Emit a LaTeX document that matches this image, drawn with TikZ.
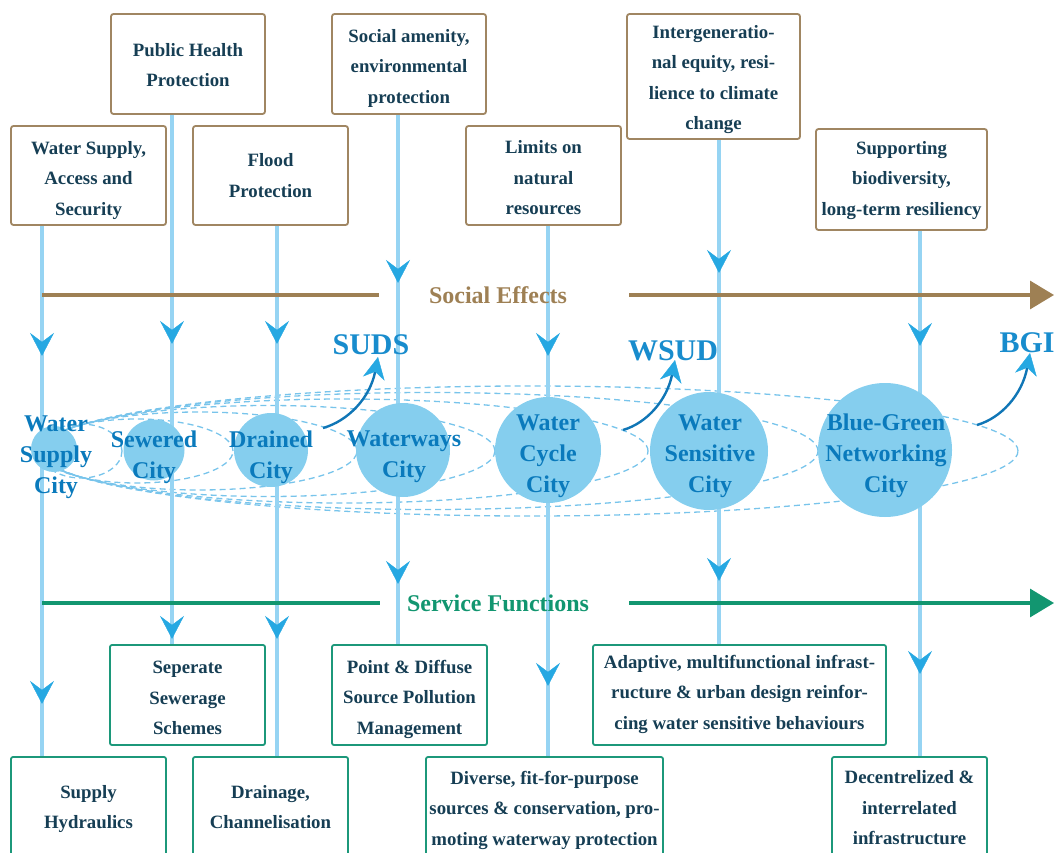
\documentclass[tikz,border=0pt]{standalone}
\usepackage{fontspec}
\setmainfont{Liberation Serif}
\usetikzlibrary{arrows.meta,decorations.markings}
\definecolor{boxbrown}{RGB}{160,134,98}
\definecolor{boxgreen}{RGB}{28,152,122}
\definecolor{txtdark}{RGB}{22,62,84}
\definecolor{sebrown}{RGB}{158,128,84}
\definecolor{sfgreen}{RGB}{18,150,112}
\definecolor{lineblue}{RGB}{150,212,243}
\definecolor{tipblue}{RGB}{38,168,226}
\definecolor{cityfill}{RGB}{133,206,238}
\definecolor{citytxt}{RGB}{10,122,188}
\definecolor{dashblue}{RGB}{120,196,235}
\definecolor{curveblue}{RGB}{16,118,182}
\definecolor{acroblue}{RGB}{24,140,205}
\tikzset{
  vtip/.tip={Stealth[length=23pt,width=24pt,inset=9pt,color=tipblue,line width=0.4pt]},
  ctip/.tip={Stealth[length=22pt,width=22pt,inset=7pt,color=tipblue,line width=0.4pt]},
}
\begin{document}
\begin{tikzpicture}[x=1pt,y=-1pt,
  boxtxt/.style={align=center, text=txtdark, inner sep=0pt, font=\fontsize{18.8}{30.5}\selectfont\bfseries},
  topbox/.style={draw=boxbrown, line width=1.8pt, rounded corners=2.5pt, fill=white, inner sep=0pt},
  botbox/.style={draw=boxgreen, line width=1.8pt, rounded corners=2pt, fill=white, inner sep=0pt},
  vline/.style 2 args={draw=lineblue, line width=4.5pt, postaction={decorate, decoration={markings, mark=at position #1 with {\arrow{vtip}}, mark=at position #2 with {\arrow{vtip}}}}},
  ell/.style={draw=dashblue, line width=1.3pt, dash pattern=on 6pt off 4pt},
  cityc/.style={circle, fill=cityfill, inner sep=0pt},
  citytext/.style={align=center, text=citytxt, inner sep=0pt, font=\fontsize{24}{31}\selectfont\bfseries},
  efftext/.style={inner sep=0pt, font=\fontsize{24}{28}\selectfont\bfseries},
  curvarr/.style={draw=curveblue, line width=2.4pt, -ctip},
  acro/.style={inner sep=0pt, text=acroblue, font=\fontsize{30}{34}\selectfont\bfseries},
]
\useasboundingbox (0,0) rectangle (1054,853);
\clip (0,0) rectangle (1054,853);

% top boxes
\node[topbox, minimum width=154pt, minimum height=100pt] (ph) at (188,64) {};
\node[boxtxt] (phT) at (188,65) {Public Health\\Protection};
\node[topbox, minimum width=155pt, minimum height=99pt] (ws) at (88.5,175.5) {};
\node[boxtxt] (wsT) at (88.5,180.5) {Water Supply,\\Access and\\Security};
\node[topbox, minimum width=155pt, minimum height=99pt] (fp) at (270.5,175.5) {};
\node[boxtxt] (fpT) at (270.5,175.5) {Flood\\Protection};
\node[topbox, minimum width=154pt, minimum height=100pt] (sa) at (409,64) {};
\node[boxtxt] (saT) at (409,68) {Social amenity,\\environmental\\protection};
\node[topbox, minimum width=155pt, minimum height=99pt] (ln) at (543.5,175.5) {};
\node[boxtxt] (lnT) at (543.5,178) {Limits on\\natural\\resources};
\node[topbox, minimum width=173pt, minimum height=125pt] (ig) at (713.5,76.5) {};
\node[boxtxt] (igT) at (713.5,79.5) {Intergeneratio-\\nal equity, resi-\\lience to climate\\change};
\node[topbox, minimum width=171pt, minimum height=101pt] (sb) at (901.5,179.5) {};
\node[boxtxt] (sbT) at (901.5,180.5) {Supporting\\biodiversity,\\long-term resiliency};

% bottom boxes
\node[botbox, minimum width=155pt, minimum height=100pt] (ss) at (187.5,695) {};
\node[boxtxt] (ssT) at (187.5,698) {Seperate\\Sewerage\\Schemes};
\node[botbox, minimum width=155pt, minimum height=100pt] (pd) at (409.5,695) {};
\node[boxtxt] (pdT) at (409.5,699) {Point \& Diffuse\\Source Pollution\\Management};
\node[botbox, minimum width=293pt, minimum height=100pt] (ad) at (739.5,695) {};
\node[boxtxt] (adT) at (739.5,694) {Adaptive, multifunctional infrast-\\ructure \& urban design reinfor-\\cing water sensitive behaviours};
\node[botbox, minimum width=155pt, minimum height=100pt] (sh) at (88.5,807) {};
\node[boxtxt] (shT) at (88.5,809) {Supply\\Hydraulics};
\node[botbox, minimum width=155pt, minimum height=100pt] (dc) at (270.5,807) {};
\node[boxtxt] (dcT) at (270.5,807) {Drainage,\\Channelisation};
\node[botbox, minimum width=237pt, minimum height=102pt] (dv) at (544.5,808) {};
\node[boxtxt] (dvT) at (544.5,810) {Diverse, fit-for-purpose\\sources \& conservation, pro-\\moting waterway protection};
\node[botbox, minimum width=155pt, minimum height=102pt] (di) at (909.5,808) {};
\node[boxtxt] (diT) at (909.5,808) {Decentrelized \&\\interrelated\\infrastructure};

% dashed ellipses
\draw[ell] (81,451) ellipse [x radius=41pt, y radius=27pt];
\draw[ell] (136.5,451) ellipse [x radius=96.5pt, y radius=32pt];
\draw[ell] (198.5,451) ellipse [x radius=158.5pt, y radius=39pt];
\draw[ell] (267.5,451) ellipse [x radius=227.5pt, y radius=45.5pt];
\draw[ell] (344,451) ellipse [x radius=304pt, y radius=52pt];
\draw[ell] (429,451) ellipse [x radius=389pt, y radius=58.5pt];
\draw[ell] (529,451) ellipse [x radius=489pt, y radius=65pt];

% vertical flow lines
\coordinate (x1) at (42,0);
\coordinate (x2) at (172,0);
\coordinate (x3) at (277,0);
\coordinate (x4) at (398,0);
\coordinate (x5) at (548,0);
\coordinate (x6) at (719,0);
\coordinate (x7) at (920,0);
\draw[vline={130pt}{478pt}] (ws.south -| x1) -- (sh.north -| x1);
\draw[vline={229pt}{524pt}] (ph.south -| x2) -- (ss.north -| x2);
\draw[vline={118pt}{413pt}] (fp.south -| x3) -- (dc.north -| x3);
\draw[vline={168pt}{469pt}] (sa.south -| x4) -- (pd.north -| x4);
\draw[vline={130pt}{460pt}] (ln.south -| x5) -- (dv.north -| x5);
\draw[vline={133pt}{441pt}] (ig.south -| x6) -- (ad.north -| x6);
\draw[vline={115pt}{443pt}] (sb.south -| x7) -- (di.north -| x7);

% horizontal axes
\node[efftext, text=sebrown] (se) at (498,295) {Social Effects};
\coordinate (seEnd) at (1054,295);
\draw[sebrown, line width=3.2pt] (x1 |- se) -- ([xshift=-50pt]se.west);
\draw[sebrown, line width=3.2pt, -{Triangle[length=24pt,width=28pt]}] ([xshift=62pt]se.east) -- (seEnd);

\node[efftext, text=sfgreen] (sf) at (498,603) {Service Functions};
\coordinate (sfEnd) at (1054,603);
\draw[sfgreen, line width=3.2pt] (x1 |- sf) -- ([xshift=-27pt]sf.west);
\draw[sfgreen, line width=3.2pt, -{Triangle[length=24pt,width=28pt]}] ([xshift=40pt]sf.east) -- (sfEnd);

% cities
\node[cityc, minimum size=46pt] (c1) at (54,449) {};
\node[cityc, minimum size=61pt] (c2) at (154,450) {};
\node[cityc, minimum size=74pt] (c3) at (271,450) {};
\node[cityc, minimum size=94pt] (c4) at (403,450) {};
\node[cityc, minimum size=106pt] (c5) at (548,450) {};
\node[cityc, minimum size=118pt] (c6) at (709,451) {};
\node[cityc, minimum size=134pt] (c7) at (885,450) {};
\node[citytext] (t1) at (56,457) {Water\\Supply\\City};
\node[citytext] (t2) at (154,457) {Sewered\\City};
\node[citytext] (t3) at (271,457) {Drained\\City};
\node[citytext] (t4) at (404,457) {Waterways\\City};
\node[citytext] (t5) at (548,456) {Water\\Cycle\\City};
\node[citytext] (t6) at (710,456) {Water\\Sensitive\\City};
\node[citytext] (t7) at (886,456) {Blue-Green\\Networking\\City};

% transitions
\coordinate (sudsA) at (323,428);
\coordinate (sudsB) at (378,357);
\draw[curvarr] (sudsA) .. controls (348,421) and (370,398) .. (sudsB);
\node[acro] (suds) at (371,345) {SUDS};
\coordinate (wsudA) at (623,430);
\coordinate (wsudB) at (675,360);
\draw[curvarr] (wsudA) .. controls (647,423) and (667,400) .. (wsudB);
\node[acro] (wsud) at (673,351) {WSUD};
\coordinate (bgiA) at (977,425);
\coordinate (bgiB) at (1030,353);
\draw[curvarr] (bgiA) .. controls (1001,418) and (1022,395) .. (bgiB);
\node[acro] (bgi) at (1027,343) {BGI};
\end{tikzpicture}
\end{document}
